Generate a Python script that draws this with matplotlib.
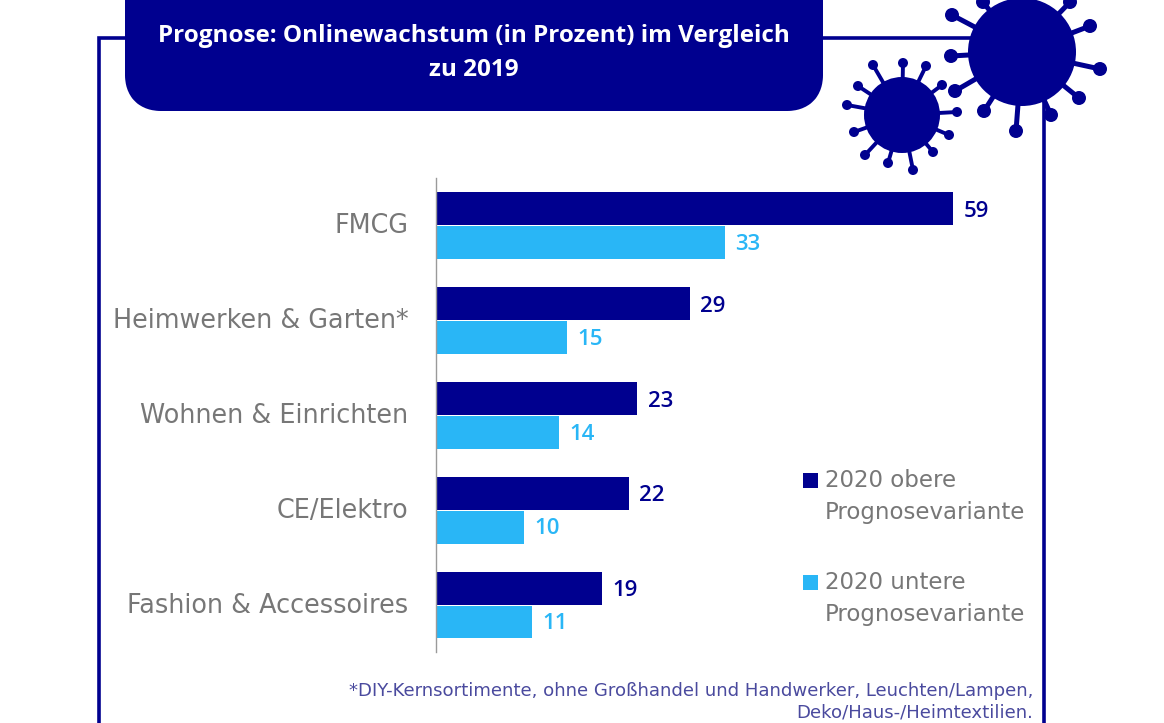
import matplotlib
matplotlib.use('Agg')
import matplotlib.pyplot as plt
from matplotlib.patches import Circle, FancyBboxPatch, Rectangle
from matplotlib.transforms import ScaledTranslation

categories = ['FMCG', 'Heimwerken & Garten*', 'Wohnen & Einrichten', 'CE/Elektro', 'Fashion & Accessoires']
upper = [59, 29, 23, 22, 19]
lower = [33, 15, 14, 10, 11]
upper_label = '2020 obere\nPrognosevariante'
lower_label = '2020 untere\nPrognosevariante'
title = 'Prognose: Onlinewachstum (in Prozent) im Vergleich\nzu 2019'
footnote = '*DIY-Kernsortimente, ohne Großhandel und Handwerker, Leuchten/Lampen,\nDeko/Haus-/Heimtextilien.'

navy = '#00008f'
light = '#29b6f6'
grey = '#777777'
W, H = 1164, 723

fig = plt.figure(figsize=(W / 100, H / 100), dpi=100, facecolor='white')

# overlay in pixel coordinates for the frame, title box and viruses
bg = fig.add_axes([0, 0, 1, 1])
bg.set_xlim(0, W)
bg.set_ylim(H, 0)
bg.axis('off')

bg.plot([99, 99, 130], [723, 38, 38], color=navy, lw=2.6, solid_joinstyle='miter')
bg.plot([820, 975], [38, 38], color=navy, lw=2.6)
bg.plot([1044, 1044], [100, 723], color=navy, lw=2.6)
bg.add_patch(FancyBboxPatch((143, -30), 662, 123, boxstyle='round,pad=0,rounding_size=18',
                            mutation_aspect=1, fc=navy, ec=navy, lw=36 * 0.72, joinstyle='round'))
bg.text(474, 53, title, color='white', fontsize=17.5, family='Open Sans', weight='bold',
        ha='center', va='center', linespacing=1.55)


def virus(cx, cy, r, tips, blob, lw):
    # spikes first, then the body on top
    for tx, ty in tips:
        bg.plot([cx, tx], [cy, ty], color=navy, lw=lw, solid_capstyle='round')
        bg.add_patch(Circle((tx, ty), blob, fc=navy, ec='none'))
    bg.add_patch(Circle((cx, cy), r, fc=navy, ec='none'))


big_tips = [(952, 15), (1090, 26), (1100, 69), (1079, 98), (1051, 115), (1016, 131),
            (984, 111), (955, 91), (951, 56), (983, 2), (1070, 2)]
small_tips = [(873, 65), (903, 63), (926, 66), (942, 85), (957, 112), (949, 135),
              (933, 152), (913, 170), (888, 163), (865, 155), (854, 132), (847, 105), (858, 86)]
virus(1022, 52, 54, big_tips, 7, 3.6)
virus(902, 115, 38, small_tips, 5, 2.8)

# chart
ax = fig.add_axes([436 / W, 1 - 652 / H, 620 / W, (652 - 178) / H])
ax.patch.set_alpha(0)
y = list(range(len(categories)))
bar_h = 33 / 94.9
ax.barh([i - bar_h / 2 for i in y], upper, height=bar_h, color=navy)
ax.barh([i + bar_h / 2 + 0.01 for i in y], lower, height=bar_h, color=light)
ax.set_xlim(0, 620 / 8.76)
ax.set_ylim(4.5, -0.495)

for i in y:
    ax.annotate(str(upper[i]), (upper[i], i - bar_h / 2), xytext=(7.5, -2), textcoords='offset points',
                color=navy, fontsize=16, family='Open Sans', weight='semibold', va='center')
    ax.annotate(str(lower[i]), (lower[i], i + bar_h / 2), xytext=(7.5, -2), textcoords='offset points',
                color=light, fontsize=16, family='Open Sans', weight='semibold', va='center')

for side in ['top', 'right', 'bottom']:
    ax.spines[side].set_visible(False)
ax.spines['left'].set_color('#9a9a9a')
ax.spines['left'].set_linewidth(1)
ax.set_xticks([])
ax.set_yticks(y)
ax.set_yticklabels(categories, fontsize=18.4, color=grey, family='DejaVu Sans')
ax.tick_params(axis='y', length=0, pad=20)
# nudge the category labels up a little
nudge = ScaledTranslation(0, 1.5 / 100, fig.dpi_scale_trans)
for lab in ax.get_yticklabels():
    lab.set_transform(lab.get_transform() + nudge)

# legend, drawn by hand as in the slide
bg.add_patch(Rectangle((803, 473), 15, 15, fc=navy, ec='none'))
bg.add_patch(Rectangle((803, 575), 15, 15, fc=light, ec='none'))
bg.text(825, 496.5, upper_label, color=grey, fontsize=16.5, family='DejaVu Sans',
        va='center', linespacing=1.55)
bg.text(825, 598.5, lower_label, color=grey, fontsize=16.5, family='DejaVu Sans',
        va='center', linespacing=1.55)

bg.text(1033, 702, footnote, color='#4a4a9e', fontsize=13.05, family='DejaVu Sans',
        ha='right', va='center', multialignment='right', linespacing=1.25)

fig.savefig('out.png', dpi=100)
